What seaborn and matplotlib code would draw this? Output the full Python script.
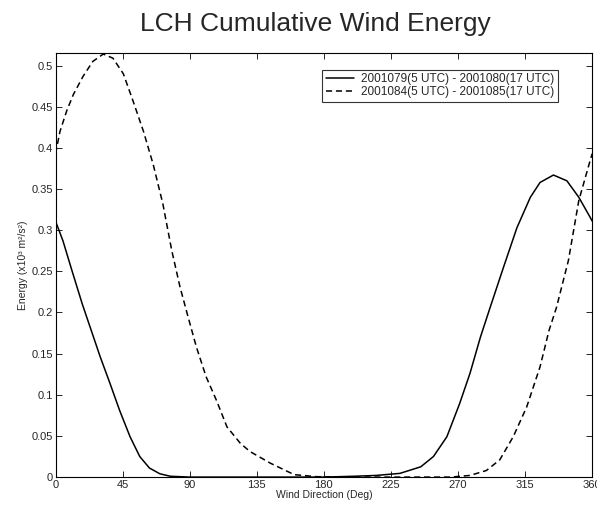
"""
LCH Cumulative Wind Energy - energia acumulada do vento por direção.
"""

import pandas as pd
import seaborn as sns
import matplotlib.pyplot as plt

# Série 1: 2001079(5 UTC) - 2001080(17 UTC)
rotulo_1 = "2001079(5 UTC) - 2001080(17 UTC)"
direcao_1 = [0, 5, 11, 18, 24, 30, 36.5, 43, 50, 56.5, 63, 70, 77, 90, 120,
             150, 180, 200, 215, 231, 245, 253.5, 262.5, 271, 278, 285, 291.5,
             300.5, 309.5, 318.5, 325, 334, 343, 351, 358.5, 360]
energia_1 = [0.311, 0.287, 0.251, 0.21, 0.178, 0.146, 0.114, 0.081, 0.049,
             0.025, 0.011, 0.004, 0.001, 0.0, 0.0, 0.0, 0.0, 0.001, 0.002,
             0.0045, 0.0125, 0.025, 0.049, 0.089, 0.126, 0.17, 0.206, 0.255,
             0.303, 0.34, 0.358, 0.367, 0.36, 0.34, 0.316, 0.311]

# Série 2: 2001084(5 UTC) - 2001085(17 UTC)
rotulo_2 = "2001084(5 UTC) - 2001085(17 UTC)"
direcao_2 = [0, 3, 7.5, 12, 18.5, 25, 32, 38.5, 45.5, 52, 59, 65.5, 72, 78,
             83.5, 89, 94.5, 101, 108, 115, 124, 130.5, 144, 160, 175, 200,
             240, 265, 278, 289, 298, 307, 316, 325, 331, 336, 344, 351,
             358.5, 360]
energia_2 = [0.393, 0.42, 0.445, 0.465, 0.487, 0.505, 0.514, 0.509, 0.49,
             0.457, 0.42, 0.38, 0.332, 0.275, 0.231, 0.194, 0.158, 0.122,
             0.093, 0.061, 0.041, 0.031, 0.017, 0.003, 0.0005, 0.0, 0.0, 0.0,
             0.002, 0.008, 0.021, 0.049, 0.085, 0.134, 0.178, 0.206, 0.263,
             0.336, 0.384, 0.393]

ticks_x = [0, 45, 90, 135, 180, 225, 270, 315, 360]
ticks_y = [0, 0.05, 0.1, 0.15, 0.2, 0.25, 0.3, 0.35, 0.4, 0.45, 0.5]
rotulos_y = ["0", "0.05", "0.1", "0.15", "0.2", "0.25", "0.3",
             "0.35", "0.4", "0.45", "0.5"]

df = pd.concat([
    pd.DataFrame({"direcao": direcao_1, "energia": energia_1, "serie": rotulo_1}),
    pd.DataFrame({"direcao": direcao_2, "energia": energia_2, "serie": rotulo_2}),
])

sns.set_theme(style="white")
plt.rcParams["font.family"] = ["Liberation Sans", "DejaVu Sans"]
plt.rcParams["xtick.direction"] = "in"
plt.rcParams["ytick.direction"] = "in"

fig = plt.figure(figsize=(5.97, 5.07), dpi=100)
ax = fig.add_axes([0.093, 0.059, 0.899, 0.836])

sns.lineplot(data=df, x="direcao", y="energia", style="serie",
             hue="serie", palette=["black", "black"],
             dashes={rotulo_1: "", rotulo_2: (4, 2.5)},
             linewidth=1.1, ax=ax, sort=False)

ax.set_xlim(0, 360)
ax.set_ylim(0, 0.515)
ax.set_xticks(ticks_x)
ax.set_yticks(ticks_y)
ax.set_xticklabels([str(t) for t in ticks_x])
ax.set_yticklabels(rotulos_y)
ax.tick_params(axis="both", labelsize=8, length=4, width=0.7,
               top=True, right=True, bottom=True, left=True, pad=2)
for lado in ax.spines.values():
    lado.set_color("black")
    lado.set_linewidth(0.8)

ax.set_xlabel("Wind Direction (Deg)", fontsize=7.5, labelpad=0)
ax.set_ylabel("Energy (x10³ m²/s²)", fontsize=7.5, labelpad=2)
fig.suptitle("LCH Cumulative Wind Energy", fontsize=19, x=0.528, y=0.977)

leg = ax.legend(loc="upper right", fontsize=8.5, handlelength=2.4,
                frameon=True, fancybox=False, borderpad=0.3,
                labelspacing=0.1, handletextpad=0.6,
                bbox_to_anchor=(0.947, 0.975))
leg.get_frame().set_edgecolor("black")
leg.get_frame().set_linewidth(0.8)

fig.savefig("out.png", dpi=100)
plt.close(fig)
